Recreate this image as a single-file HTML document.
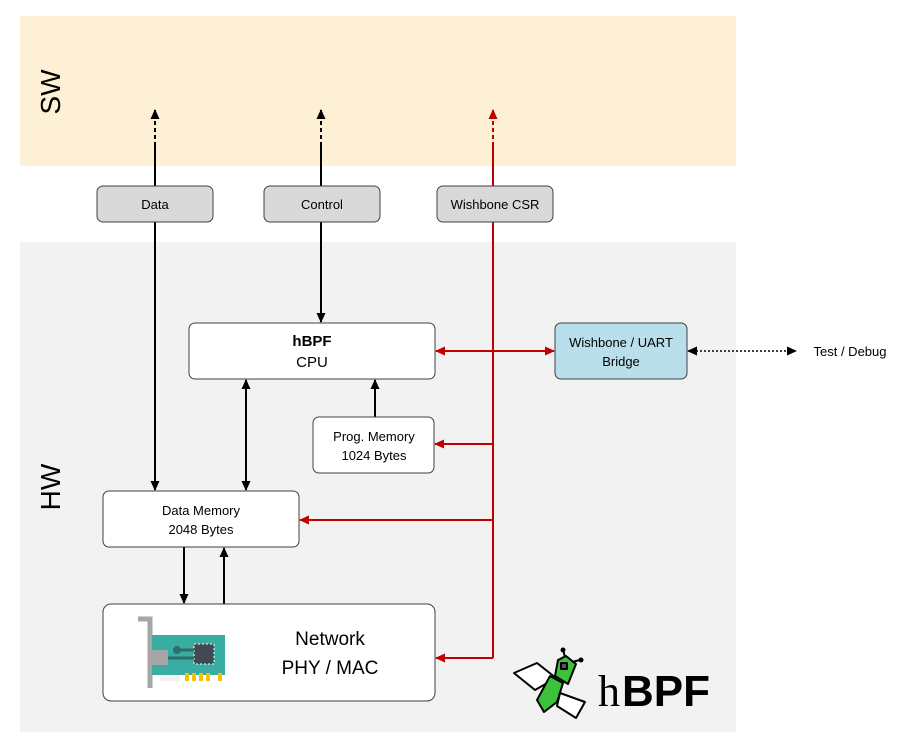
<!DOCTYPE html>
<html><head><style>body{margin:0;background:#fff}svg{display:block;font-family:"Liberation Sans",sans-serif}</style></head><body>
<svg width="907" height="748" viewBox="0 0 907 748">
<defs>
<marker id="ab" markerWidth="10" markerHeight="10" refX="9" refY="5" orient="auto-start-reverse" markerUnits="userSpaceOnUse"><path d="M0,0.5 L10,5 L0,9.5z" fill="#000"/></marker>
<marker id="ar" markerWidth="10" markerHeight="10" refX="9" refY="5" orient="auto-start-reverse" markerUnits="userSpaceOnUse"><path d="M0,0.5 L10,5 L0,9.5z" fill="#c00000"/></marker>
</defs>
<rect x="20" y="16" width="716" height="150" fill="#fdf0d5"/>
<rect x="20" y="242" width="716" height="490" fill="#f2f2f2"/>
<text transform="translate(60,92) rotate(-90)" font-size="28" text-anchor="middle">SW</text>
<text transform="translate(60,487) rotate(-90)" font-size="28" text-anchor="middle">HW</text>
<g stroke-width="2" stroke-dasharray="4,3" fill="none">
<line x1="155" y1="146" x2="155" y2="110" stroke="#000" marker-end="url(#ab)"/>
<line x1="321" y1="146" x2="321" y2="110" stroke="#000" marker-end="url(#ab)"/>
<line x1="493" y1="146" x2="493" y2="110" stroke="#c00000" marker-end="url(#ar)"/>
</g>
<g stroke="#000" stroke-width="2" fill="none">
<line x1="155" y1="146" x2="155" y2="490" marker-end="url(#ab)"/>
<line x1="321" y1="146" x2="321" y2="322" marker-end="url(#ab)"/>
<line x1="246" y1="380" x2="246" y2="490" marker-start="url(#ab)" marker-end="url(#ab)"/>
<line x1="375" y1="417" x2="375" y2="380" marker-end="url(#ab)"/>
<line x1="184" y1="547" x2="184" y2="603" marker-end="url(#ab)"/>
<line x1="224" y1="604" x2="224" y2="548" marker-end="url(#ab)"/>
<line x1="688" y1="351" x2="796" y2="351" stroke-width="1.5" stroke-dasharray="2,2" marker-start="url(#ab)" marker-end="url(#ab)"/>
</g>
<g stroke="#c00000" stroke-width="2" fill="none">
<line x1="493" y1="146" x2="493" y2="658"/>
<line x1="493" y1="351" x2="436" y2="351" marker-end="url(#ar)"/>
<line x1="493" y1="351" x2="554" y2="351" marker-end="url(#ar)"/>
<line x1="493" y1="444" x2="435" y2="444" marker-end="url(#ar)"/>
<line x1="493" y1="520" x2="300" y2="520" marker-end="url(#ar)"/>
<line x1="493" y1="658" x2="436" y2="658" marker-end="url(#ar)"/>
</g>
<g stroke="#404040" stroke-width="1">
<rect x="97" y="186" width="116" height="36" rx="6" fill="#d9d9d9"/>
<rect x="264" y="186" width="116" height="36" rx="6" fill="#d9d9d9"/>
<rect x="437" y="186" width="116" height="36" rx="6" fill="#d9d9d9"/>
<rect x="189" y="323" width="246" height="56" rx="6" fill="#fff"/>
<rect x="555" y="323" width="132" height="56" rx="6" fill="#b9dfea"/>
<rect x="313" y="417" width="121" height="56" rx="6" fill="#fff"/>
<rect x="103" y="491" width="196" height="56" rx="6" fill="#fff"/>
<rect x="103" y="604" width="332" height="97" rx="8" fill="#fff"/>
</g>
<g font-size="13" text-anchor="middle" fill="#000">
<text x="155" y="209">Data</text>
<text x="322" y="209">Control</text>
<text x="495" y="209">Wishbone CSR</text>
<text x="312" y="346" font-weight="bold" font-size="15">hBPF</text>
<text x="312" y="367" font-size="15">CPU</text>
<text x="621" y="347">Wishbone / UART</text>
<text x="621" y="366">Bridge</text>
<text x="374" y="441">Prog. Memory</text>
<text x="374" y="460">1024 Bytes</text>
<text x="201" y="515">Data Memory</text>
<text x="201" y="534">2048 Bytes</text>
<text x="330" y="645" font-size="19">Network</text>
<text x="330" y="674" font-size="19">PHY / MAC</text>
<text x="850" y="356" text-anchor="middle">Test / Debug</text>
</g>
<path d="M138,619 H150 V688" stroke="#a6a6a6" stroke-width="5" fill="none"/>
<rect x="152" y="635" width="73" height="40" fill="#3aada2"/>
<rect x="152" y="650" width="16" height="15" fill="#a6a6a6"/>
<rect x="160" y="675" width="20" height="6" fill="#f2f2f2"/>
<g fill="#f4c20d"><rect x="185" y="673" width="4" height="8"/><rect x="192" y="673" width="4" height="8"/><rect x="199" y="673" width="4" height="8"/><rect x="206" y="673" width="4" height="8"/><rect x="218" y="673" width="4" height="8"/></g>
<rect x="194" y="644" width="20" height="20" fill="#3f4a52" stroke="#fff" stroke-dasharray="2,2"/>
<line x1="168" y1="658" x2="194" y2="658" stroke="#2d6e6a" stroke-width="3"/>
<line x1="178" y1="650" x2="194" y2="650" stroke="#2d6e6a" stroke-width="3"/>
<circle cx="177" cy="650" r="4" fill="#2d6e6a"/>
<g stroke="#000" stroke-width="2" stroke-linejoin="round">
<path d="M514,673 L537,663 L556,678 L535,690z" fill="#fff"/>
<path d="M560,693 L585,702 L576,718 L557,706z" fill="#fff"/>
<path d="M537,700 L550,676 L563,683 L557,702 L544,712z" fill="#3cc23c"/>
<path d="M558,660 L566,656 L576,664 L568,684 L555,676z" fill="#3cc23c"/>
<rect x="561" y="663" width="6" height="6" fill="#555"/>
<line x1="565" y1="657" x2="563" y2="650"/><line x1="572" y1="662" x2="580" y2="660"/>
</g>
<circle cx="563" cy="650" r="2.5"/><circle cx="581" cy="660" r="2.5"/>
<text x="598" y="706" font-family="Liberation Serif,serif" font-size="44">h</text>
<text x="622" y="706" font-size="44" font-weight="bold">BPF</text>
</svg>
</body></html>
